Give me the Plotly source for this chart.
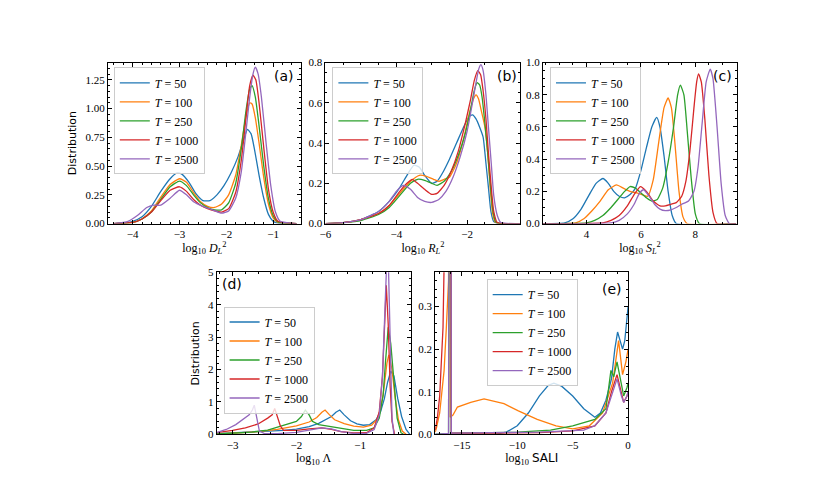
import plotly.graph_objects as go

W, H = 822, 493
COLORS = ["#1f77b4", "#ff7f0e", "#2ca02c", "#d62728", "#9467bd"]
T_LABELS = ["50", "100", "250", "1000", "2500"]

# ---------------- panel (a): log10 D_L^2 ----------------
a_x_T50 = [-4.4,-4.2,-4.0,-3.8,-3.6,-3.4,-3.2,-3.05,-2.95,-2.8,-2.65,-2.5,-2.35,-2.2,-2.05,-1.9,-1.75,-1.62,-1.55,-1.47,-1.4,-1.3,-1.2,-1.1,-1.0,-0.9,-0.5]
a_y_T50 = [0,0.005,0.02,0.06,0.15,0.28,0.39,0.44,0.43,0.36,0.26,0.2,0.2,0.25,0.33,0.44,0.58,0.74,0.82,0.78,0.65,0.42,0.22,0.08,0.02,0.003,0]
a_x_T100 = [-4.4,-4.0,-3.8,-3.6,-3.4,-3.2,-3.0,-2.85,-2.7,-2.55,-2.4,-2.25,-2.1,-1.95,-1.8,-1.68,-1.58,-1.5,-1.45,-1.38,-1.3,-1.2,-1.1,-1.0,-0.9,-0.5]
a_y_T100 = [0,0.01,0.04,0.11,0.23,0.34,0.39,0.36,0.27,0.19,0.15,0.14,0.17,0.25,0.42,0.68,0.93,1.05,1.04,0.92,0.7,0.4,0.17,0.05,0.01,0]
a_x_T250 = [-4.4,-4.0,-3.8,-3.6,-3.4,-3.2,-3.0,-2.85,-2.7,-2.55,-2.4,-2.25,-2.1,-1.95,-1.8,-1.68,-1.58,-1.5,-1.45,-1.38,-1.3,-1.2,-1.1,-1.0,-0.9,-0.5]
a_y_T250 = [0,0.01,0.04,0.1,0.21,0.32,0.37,0.33,0.25,0.18,0.14,0.12,0.12,0.18,0.35,0.65,0.98,1.17,1.2,1.1,0.85,0.5,0.22,0.07,0.015,0]
a_x_T1000 = [-4.4,-4.0,-3.8,-3.6,-3.4,-3.2,-3.0,-2.85,-2.7,-2.55,-2.4,-2.25,-2.1,-1.95,-1.8,-1.68,-1.58,-1.5,-1.43,-1.37,-1.3,-1.2,-1.1,-1.0,-0.9,-0.5]
a_y_T1000 = [0,0.01,0.04,0.1,0.2,0.29,0.32,0.28,0.21,0.16,0.13,0.11,0.1,0.13,0.27,0.55,0.92,1.2,1.29,1.25,1.05,0.66,0.3,0.1,0.02,0]
a_x_T2500 = [-4.4,-4.1,-3.9,-3.7,-3.55,-3.4,-3.2,-3.0,-2.85,-2.7,-2.5,-2.3,-2.1,-1.95,-1.8,-1.68,-1.58,-1.5,-1.43,-1.38,-1.32,-1.25,-1.15,-1.05,-0.95,-0.85,-0.5]
a_y_T2500 = [0,0.02,0.07,0.14,0.16,0.16,0.22,0.29,0.25,0.19,0.15,0.12,0.09,0.11,0.22,0.45,0.8,1.1,1.3,1.36,1.3,1.1,0.7,0.33,0.1,0.02,0]

# ---------------- panel (b): log10 R_L^2 ----------------
b_x_T50 = [-6,-5.5,-5,-4.5,-4.2,-3.9,-3.7,-3.5,-3.35,-3.2,-3.0,-2.85,-2.7,-2.5,-2.3,-2.1,-1.95,-1.85,-1.75,-1.65,-1.55,-1.47,-1.4,-1.33,-1.25,-1.1,-0.5]
b_y_T50 = [0,0.005,0.02,0.06,0.11,0.18,0.24,0.29,0.28,0.24,0.2,0.21,0.25,0.32,0.4,0.48,0.53,0.54,0.52,0.48,0.43,0.3,0.18,0.06,0.01,0,0]
b_x_T100 = [-6,-5.5,-5,-4.5,-4.2,-3.9,-3.6,-3.35,-3.15,-2.95,-2.8,-2.65,-2.5,-2.3,-2.1,-1.95,-1.82,-1.75,-1.68,-1.6,-1.5,-1.42,-1.35,-1.28,-1.2,-0.5]
b_y_T100 = [0,0.005,0.02,0.05,0.09,0.15,0.21,0.24,0.235,0.22,0.21,0.22,0.23,0.3,0.42,0.54,0.62,0.64,0.62,0.56,0.48,0.35,0.18,0.05,0.005,0]
b_x_T250 = [-6,-5.5,-5,-4.5,-4.2,-3.9,-3.6,-3.4,-3.2,-3.0,-2.85,-2.65,-2.45,-2.25,-2.05,-1.9,-1.8,-1.72,-1.65,-1.58,-1.5,-1.42,-1.35,-1.27,-1.18,-0.5]
b_y_T250 = [0,0.005,0.015,0.045,0.08,0.14,0.2,0.22,0.215,0.2,0.19,0.21,0.26,0.34,0.45,0.57,0.66,0.70,0.69,0.63,0.5,0.35,0.2,0.06,0.005,0]
b_x_T1000 = [-6,-5.5,-5,-4.5,-4.2,-3.9,-3.7,-3.55,-3.4,-3.2,-3.0,-2.85,-2.65,-2.45,-2.25,-2.05,-1.9,-1.8,-1.7,-1.62,-1.55,-1.47,-1.4,-1.32,-1.25,-1.15,-0.5]
b_y_T1000 = [0,0.005,0.02,0.05,0.09,0.16,0.2,0.22,0.2,0.17,0.145,0.15,0.19,0.26,0.36,0.5,0.62,0.71,0.76,0.74,0.66,0.52,0.35,0.18,0.06,0.005,0]
b_x_T2500 = [-6,-5.5,-5,-4.5,-4.2,-4.0,-3.8,-3.6,-3.4,-3.2,-3.0,-2.8,-2.6,-2.4,-2.2,-2.0,-1.85,-1.75,-1.67,-1.61,-1.55,-1.47,-1.4,-1.32,-1.25,-1.15,-1.05,-0.5]
b_y_T2500 = [0,0.005,0.02,0.06,0.11,0.16,0.19,0.17,0.13,0.11,0.105,0.12,0.16,0.23,0.33,0.46,0.6,0.7,0.77,0.79,0.76,0.64,0.48,0.3,0.14,0.04,0.005,0]

# ---------------- panel (c): log10 S_L^2 ----------------
c_x_T50 = [2.4,3.2,3.5,3.8,4.1,4.35,4.6,4.8,5.0,5.2,5.4,5.6,5.8,6.0,6.2,6.4,6.58,6.7,6.85,7.0,7.15,7.3,9.5]
c_y_T50 = [0,0.005,0.03,0.09,0.18,0.25,0.28,0.25,0.2,0.17,0.16,0.18,0.22,0.33,0.47,0.6,0.66,0.6,0.42,0.2,0.05,0,0]
c_x_T100 = [2.4,3.6,3.9,4.2,4.5,4.8,5.1,5.35,5.6,5.85,6.05,6.25,6.45,6.65,6.85,7.0,7.12,7.25,7.4,7.55,7.7,9.5]
c_y_T100 = [0,0.005,0.03,0.08,0.14,0.21,0.24,0.22,0.2,0.19,0.18,0.17,0.27,0.5,0.72,0.78,0.72,0.5,0.2,0.04,0,0]
c_x_T250 = [2.4,4.0,4.3,4.6,4.9,5.2,5.4,5.6,5.8,6.0,6.2,6.4,6.6,6.8,7.0,7.2,7.35,7.45,7.58,7.7,7.85,8.0,8.15,9.5]
c_y_T250 = [0,0.005,0.02,0.05,0.1,0.16,0.2,0.23,0.22,0.19,0.16,0.14,0.15,0.22,0.38,0.6,0.8,0.86,0.8,0.58,0.28,0.06,0,0]
c_x_T1000 = [2.4,4.6,4.9,5.2,5.5,5.75,5.98,6.2,6.45,6.7,6.9,7.1,7.3,7.5,7.65,7.8,7.95,8.05,8.12,8.22,8.35,8.5,8.65,8.8,9.5]
c_y_T1000 = [0,0.005,0.02,0.05,0.11,0.18,0.23,0.2,0.14,0.11,0.11,0.12,0.13,0.17,0.26,0.45,0.72,0.88,0.93,0.88,0.65,0.3,0.07,0,0]
c_x_T2500 = [2.4,4.9,5.2,5.5,5.75,5.95,6.1,6.3,6.5,6.7,6.9,7.1,7.3,7.5,7.75,7.95,8.1,8.25,8.4,8.55,8.65,8.8,8.95,9.1,9.25,9.5]
c_y_T2500 = [0,0.005,0.02,0.06,0.12,0.19,0.21,0.17,0.12,0.09,0.08,0.085,0.1,0.12,0.14,0.2,0.35,0.62,0.88,0.96,0.9,0.6,0.25,0.05,0,0]

# ---------------- panel (d): log10 Lambda ----------------
d_x_T50 = [-3.25,-3.0,-2.6,-2.2,-2.0,-1.8,-1.65,-1.55,-1.45,-1.38,-1.32,-1.25,-1.15,-1.05,-0.95,-0.85,-0.75,-0.68,-0.62,-0.57,-0.52,-0.47,-0.41,-0.35,-0.28,-0.22]
d_y_T50 = [0.02,0.04,0.07,0.12,0.16,0.24,0.34,0.45,0.55,0.68,0.75,0.6,0.42,0.32,0.28,0.3,0.45,0.7,1.1,1.6,1.95,1.8,1.1,0.55,0.15,0.0]
d_x_T100 = [-3.25,-3.0,-2.6,-2.3,-2.0,-1.8,-1.68,-1.6,-1.55,-1.48,-1.4,-1.25,-1.1,-0.95,-0.82,-0.72,-0.64,-0.58,-0.55,-0.5,-0.45,-0.4,-0.34,-0.28]
d_y_T100 = [0.01,0.03,0.08,0.15,0.26,0.38,0.52,0.68,0.75,0.6,0.45,0.33,0.25,0.22,0.28,0.5,1.2,2.2,2.45,2.0,1.1,0.45,0.1,0]
d_x_T250 = [-3.25,-3.0,-2.7,-2.45,-2.3,-2.15,-2.0,-1.92,-1.86,-1.8,-1.75,-1.65,-1.5,-1.3,-1.1,-0.9,-0.78,-0.7,-0.64,-0.6,-0.56,-0.52,-0.47,-0.42,-0.36,-0.32]
d_y_T250 = [0.01,0.03,0.07,0.13,0.22,0.3,0.4,0.55,0.75,0.6,0.4,0.3,0.25,0.18,0.12,0.12,0.2,0.5,1.2,2.3,3.3,2.8,1.5,0.5,0.05,0]
d_x_T1000 = [-3.25,-3.0,-2.8,-2.6,-2.45,-2.38,-2.34,-2.3,-2.25,-2.2,-2.0,-1.8,-1.6,-1.45,-1.3,-1.1,-0.9,-0.78,-0.7,-0.65,-0.62,-0.59,-0.56,-0.53,-0.5,-0.46]
d_y_T1000 = [0.05,0.12,0.2,0.32,0.5,0.6,0.8,0.55,0.25,0.12,0.12,0.17,0.2,0.15,0.08,0.04,0.05,0.2,0.7,1.8,3.2,4.6,3.4,1.5,0.4,0]
d_x_T2500 = [-3.25,-3.1,-2.95,-2.82,-2.74,-2.69,-2.66,-2.62,-2.58,-2.5,-2.3,-2.0,-1.75,-1.6,-1.45,-1.3,-1.1,-0.9,-0.78,-0.7,-0.65,-0.61,-0.58,-0.56,-0.53,-0.5,-0.47]
d_y_T2500 = [0.05,0.15,0.3,0.5,0.6,0.75,0.9,0.5,0.1,0.02,0.02,0.06,0.15,0.2,0.17,0.08,0.03,0.03,0.15,0.6,1.8,3.8,5.5,5.5,3.0,0.5,0]

# ---------------- panel (e): log10 SALI ----------------
e_x_T50 = [-17.4,-12.0,-11.0,-10.0,-9.0,-8.0,-7.2,-6.7,-6.0,-5.0,-4.0,-3.0,-2.5,-2.0,-1.5,-1.2,-0.95,-0.75,-0.5,-0.3,-0.1,0.0]
e_y_T50 = [0,0,0.005,0.02,0.05,0.09,0.115,0.12,0.113,0.09,0.06,0.04,0.05,0.08,0.13,0.2,0.24,0.22,0.2,0.22,0.27,0.3]
e_x_T100 = [-17.4,-17.3,-17.0,-16.8,-16.6,-16.4,-16.2,-16.12,-16.05,-15.8,-15.4,-14.2,-13.0,-11.2,-9.9,-8.2,-6.5,-5.0,-3.5,-2.3,-1.4,-0.86,-0.5,-0.2,0.0]
e_y_T100 = [0.005,0.014,0.05,0.1,0.15,0.25,0.36,1.5,0.04,0.045,0.064,0.075,0.083,0.072,0.055,0.035,0.02,0.013,0.02,0.05,0.12,0.22,0.14,0.17,0.2]
e_x_T250 = [-17.4,-16.2,-16.08,-16.02,-15.95,-13.0,-10.0,-7.0,-5.0,-3.0,-2.0,-1.55,-1.3,-1.0,-0.6,-0.4,-0.1,0.0]
e_y_T250 = [0,0.002,1.5,1.5,0.003,0.004,0.005,0.01,0.02,0.035,0.06,0.15,0.135,0.17,0.12,0.09,0.11,0.12]
e_x_T1000 = [-17.4,-17.2,-17.0,-16.85,-16.7,-16.6,-16.1,-16.02,-15.95,-12.0,-8.0,-5.0,-3.0,-2.0,-1.5,-1.0,-0.6,-0.4,-0.1,0.0]
e_y_T1000 = [0.01,0.04,0.09,0.16,0.25,0.4,1.5,1.5,0.003,0.003,0.004,0.008,0.02,0.05,0.1,0.14,0.1,0.075,0.09,0.1]
e_x_T2500 = [-17.4,-16.2,-16.08,-16.02,-15.95,-12.0,-8.0,-4.0,-3.0,-2.0,-1.5,-1.0,-0.6,-0.4,-0.1,0.0]
e_y_T2500 = [0,0.002,1.5,1.5,0.003,0.004,0.005,0.01,0.02,0.05,0.09,0.13,0.09,0.075,0.09,0.1]

PANELS = [
    dict(name="a", xs=[a_x_T50, a_x_T100, a_x_T250, a_x_T1000, a_x_T2500],
         ys=[a_y_T50, a_y_T100, a_y_T250, a_y_T1000, a_y_T2500]),
    dict(name="b", xs=[b_x_T50, b_x_T100, b_x_T250, b_x_T1000, b_x_T2500],
         ys=[b_y_T50, b_y_T100, b_y_T250, b_y_T1000, b_y_T2500]),
    dict(name="c", xs=[c_x_T50, c_x_T100, c_x_T250, c_x_T1000, c_x_T2500],
         ys=[c_y_T50, c_y_T100, c_y_T250, c_y_T1000, c_y_T2500]),
    dict(name="d", xs=[d_x_T50, d_x_T100, d_x_T250, d_x_T1000, d_x_T2500],
         ys=[d_y_T50, d_y_T100, d_y_T250, d_y_T1000, d_y_T2500]),
    dict(name="e", xs=[e_x_T50, e_x_T100, e_x_T250, e_x_T1000, e_x_T2500],
         ys=[e_y_T50, e_y_T100, e_y_T250, e_y_T1000, e_y_T2500]),
]

# layout: boxes in pixels (left, right, top, bottom)
BOXES = [(103, 298, 58, 223), (323, 520, 58, 223), (543, 739, 58, 223),
         (213, 409, 273, 439), (434, 629, 273, 439)]
XRANGES = [[-4.53, -0.41], [-6, -0.5], [2.4, 9.53], [-3.25, -0.21], [-17.4, 0]]
YRANGES = [[0, 1.40], [0, 0.8], [0, 1.0], [0, 5], [0, 0.38]]
XDT = [(1, 0.2), (2, 0.5), (2, 0.5), (1, 0.2), (5, 1)]
YDT = [(0.25, 0.05), (0.2, 0.05), (0.2, 0.05), (1, 0.2), (0.1, 0.02)]
YFMT = [".2f", ".1f", ".1f", "d", ".1f"]
XTITLES = ["log<sub>10</sub> <i>D</i><sub><i>L</i></sub><sup>2</sup>",
           "log<sub>10</sub> <i>R</i><sub><i>L</i></sub><sup>2</sup>",
           "log<sub>10</sub> <i>S</i><sub><i>L</i></sub><sup>2</sup>",
           "log<sub>10</sub> Λ",
           "log<sub>10</sub> <span style=\"font-family:'DejaVu Sans'\">SALI</span>"]
LEG_POS = [(109, 63), (330, 63), (550, 63), (220, 308), (486, 280)]
LABEL_POS = [(281, 72), (507, 72), (724, 72), (228, 285), (613, 290)]
SHAPES = ["spline", "spline", "spline", "linear", "linear"]

SERIF = "Liberation Serif"
SANS = "DejaVu Sans"

fig = go.Figure()
layout = dict(width=W, height=H, margin=dict(l=0, r=0, t=0, b=0),
              paper_bgcolor="white", plot_bgcolor="white", showlegend=True,
              annotations=[])

for i, p in enumerate(PANELS):
    k = "" if i == 0 else str(i + 1)
    legname = "legend" if i == 0 else f"legend{i + 1}"
    for j in range(5):
        line = dict(color=COLORS[j], width=1.3, shape=SHAPES[i])
        if SHAPES[i] == "spline":
            line["smoothing"] = 0.5
        fig.add_trace(go.Scatter(
            x=p["xs"][j], y=p["ys"][j], mode="lines", line=line,
            name=f"<i>T</i> = {T_LABELS[j]}",
            xaxis=f"x{k}", yaxis=f"y{k}", legend=legname, cliponaxis=True))
    l, r, t, b = BOXES[i]
    common = dict(showgrid=False, zeroline=False, showline=True, linecolor="black",
                  linewidth=1, mirror="allticks", ticks="inside", ticklen=4,
                  tickcolor="black", tickwidth=0.8,
                  tickfont=dict(family=SERIF, size=11, color="black"))
    layout[f"xaxis{k}"] = dict(
        common, domain=[l / W, r / W], anchor=f"y{k}", range=XRANGES[i],
        dtick=XDT[i][0], tick0=0,
        minor=dict(ticks="inside", ticklen=2, dtick=XDT[i][1], tick0=0,
                   tickcolor="black", tickwidth=0.6, showgrid=False),
        title=dict(text=XTITLES[i], font=dict(family=SERIF, size=12, color="black"),
                   standoff=4))
    ydict = dict(
        common, domain=[1 - b / H, 1 - t / H], anchor=f"x{k}", range=YRANGES[i],
        dtick=YDT[i][0], tick0=0, tickformat=YFMT[i],
        minor=dict(ticks="inside", ticklen=2, dtick=YDT[i][1], tick0=0,
                   tickcolor="black", tickwidth=0.6, showgrid=False))
    if i in (0, 3):
        ydict["title"] = dict(text="Distribution",
                              font=dict(family=SANS, size=11, color="black"),
                              standoff=6)
    layout[f"yaxis{k}"] = ydict
    lx, ly = LEG_POS[i]
    layout[legname] = dict(
        x=lx / W, y=1 - ly / H, xanchor="left", yanchor="top",
        bgcolor="rgba(255,255,255,0.8)", bordercolor="#cccccc", borderwidth=1,
        font=dict(family=SERIF, size=12, color="black"),
        itemwidth=30, tracegroupgap=0)
    ax, ay = LABEL_POS[i]
    layout["annotations"].append(dict(
        x=ax / W, y=1 - ay / H, xref="paper", yref="paper", showarrow=False,
        text=f"({p['name']})", font=dict(family=SANS, size=14, color="black"),
        xanchor="center", yanchor="middle"))

fig.update_layout(**layout)
fig.write_html("out.html", config={"displayModeBar": False},
               post_script="document.body.style.margin='0';document.body.style.padding='0';")
